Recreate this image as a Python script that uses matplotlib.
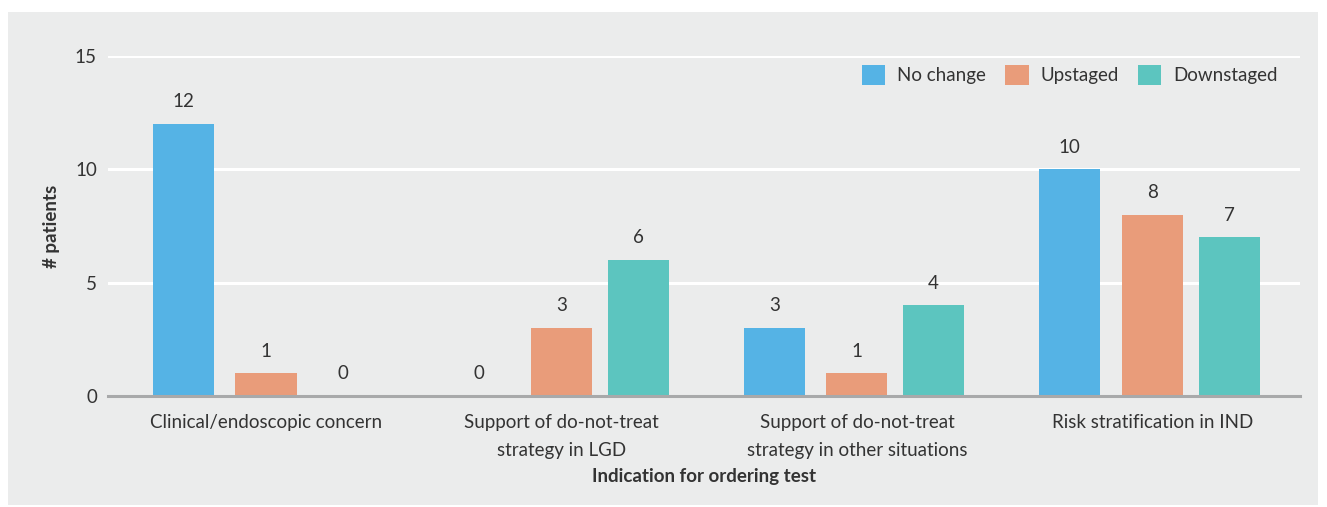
import numpy as np
import matplotlib.pyplot as plt
from matplotlib.patches import Rectangle

categories = ["Clinical/endoscopic concern",
              "Support of do-not-treat\nstrategy in LGD",
              "Support of do-not-treat\nstrategy in other situations",
              "Risk stratification in IND"]
series_names = ["No change", "Upstaged", "Downstaged"]
no_change = [12, 0, 3, 10]
upstaged = [1, 3, 1, 8]
downstaged = [0, 6, 4, 7]
colors = ["#55b3e5", "#e99c7a", "#5cc5bf"]

plt.rcParams['font.family'] = ['Lato', 'DejaVu Sans']
bg = "#ebecec"
txt = "#333333"
fs = 13.5

fig = plt.figure(figsize=(13.27, 5.07), dpi=100)
fig.patches.append(Rectangle((8 / 1327, 2 / 507), 1310 / 1327, 493 / 507,
                             transform=fig.transFigure, facecolor=bg,
                             edgecolor='none', zorder=-10))
ax = fig.add_axes([108 / 1327, 111 / 507, 1192 / 1327, 340 / 507])
ax.set_facecolor(bg)

x = np.arange(len(categories))
offsets = [-0.28, 0.0, 0.26]
width = 0.207
for vals, off, col, name in zip([no_change, upstaged, downstaged], offsets, colors, series_names):
    bars = ax.bar(x + off, vals, width, color=col, label=name, zorder=3)
    for xi, v in zip(x + off, vals):
        ax.text(xi, v + 0.6, str(v), ha='center', va='bottom', fontsize=fs, color=txt)

ax.set_xlim(-0.535, 3.5)
ax.set_ylim(0, 15)
ax.set_yticks([0, 5, 10, 15])
ax.yaxis.grid(True, color='white', linewidth=2.2, zorder=0)
ax.set_axisbelow(True)
for s in ['top', 'right', 'left']:
    ax.spines[s].set_visible(False)
ax.spines['bottom'].set_color('#a8a9aa')
ax.spines['bottom'].set_linewidth(2.2)
ax.spines['bottom'].set_zorder(4)
ax.set_xticks(x)
ax.set_xticklabels(categories, fontsize=fs, color=txt, linespacing=1.75)
ax.tick_params(axis='x', length=0, pad=13)
ax.tick_params(axis='y', length=0, pad=8, labelsize=fs, labelcolor=txt)
ax.set_xlabel("Indication for ordering test", fontsize=fs, fontweight='bold', color=txt, labelpad=7)
ax.set_ylabel("# patients", fontsize=fs, fontweight='bold', color=txt, labelpad=11)

ax.legend(loc='center right', bbox_to_anchor=(0.9815, 1 - 19 / 340), ncol=3, frameon=False,
          fontsize=fs, handlelength=1.25, handleheight=1.25, columnspacing=1.0,
          handletextpad=0.65, labelcolor=txt, borderpad=0, borderaxespad=0)

fig.savefig("out.png", dpi=100)
